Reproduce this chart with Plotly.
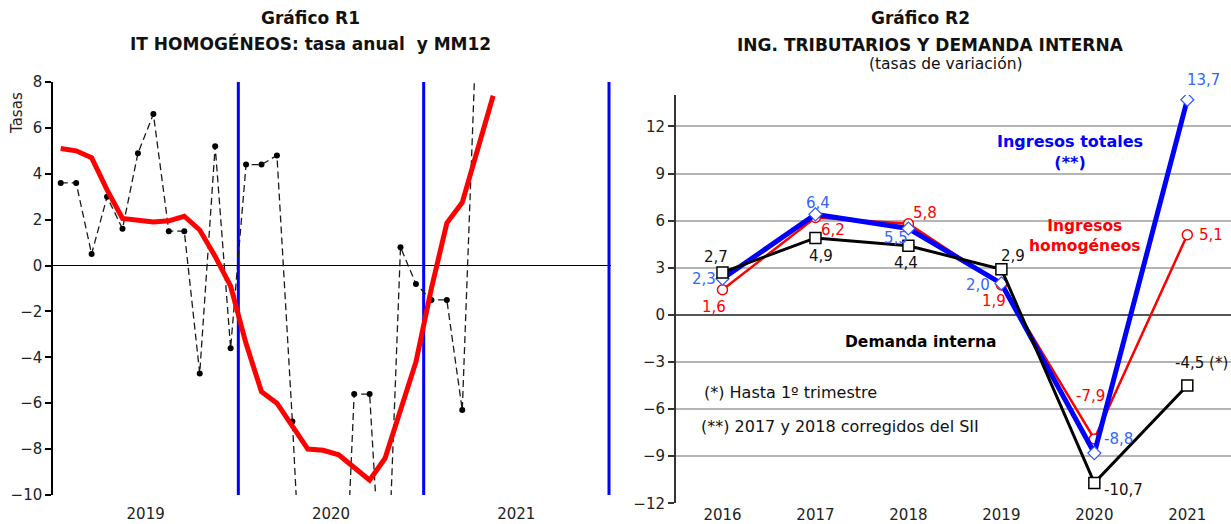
import plotly.graph_objects as go

W, H = 1231, 524
FONT = "DejaVu Sans"

# ---------------- Left chart data (Gráfico R1) ----------------
years_r1 = ["2019", "2020", "2021"]
months_r1 = [f"{y}-{m:02d}" for y in (2019, 2020, 2021) for m in range(1, 13)]
tasa_anual = [3.6, 3.6, 0.5, 3.0, 1.6, 4.9, 6.6, 1.5, 1.5, -4.7, 5.2, -3.6,
              4.4, 4.4, 4.8, -6.8, -20.0, -24.0, -21.0, -5.6, -5.6, -17.0, 0.8, -0.8,
              -1.5, -1.5, -6.3, 12.0]
mm12 = [5.1, 5.0, 4.7, 3.3, 2.05, 1.95, 1.9, 1.95, 2.15, 1.55, 0.4, -0.9,
        -3.4, -5.5, -6.0, -7.0, -8.0, -8.05, -8.25, -8.8, -9.35, -8.4, -6.3, -4.2,
        -1.0, 1.85, 2.75, 5.0, 7.4]
y_range_r1 = [-10, 8]

# ---------------- Right chart data (Gráfico R2) ----------------
years_r2 = ["2016", "2017", "2018", "2019", "2020", "2021"]
ing_totales = [2.3, 6.4, 5.5, 2.0, -8.8, 13.7]
ing_homogeneos = [1.6, 6.2, 5.8, 1.9, -7.9, 5.1]
demanda_interna = [2.7, 4.9, 4.4, 2.9, -10.7, -4.5]
label_suffix_demanda = ["", "", "", "", "", " (*)"]

# label offsets (pixels) - styling only
off_tot = [(-18, 0), (3, 11), (-12, -10), (-23, -2), (24, 14), (16, 20)]
off_hom = [(-8, -17), (18, -13), (17, 11), (-7, -16), (-4, 43), (24, 0)]
off_dem = [(-6, 15), (6, -18), (-2, -17), (12, 13), (29, -7), (14, 23)]


def px_x(p):
    return p / W


def px_y(p):
    return (H - p) / H


def fmt(v):
    return f"{v:.1f}".replace(".", ",")


fig = go.Figure()

# blue vertical year separators (left chart), built from the year list
sep_x, sep_y = [], []
for k in range(1, len(years_r1) + 1):
    sep_x += [12 * k, 12 * k, None]
    sep_y += [y_range_r1[0], y_range_r1[1], None]
fig.add_trace(go.Scatter(x=sep_x, y=sep_y, mode="lines", xaxis="x", yaxis="y",
                         line=dict(color="#0000FF", width=3), hoverinfo="skip",
                         showlegend=False))

# Left chart traces
x_tasa = [i + 0.5 for i in range(len(tasa_anual))]
x_mm = [i + 0.5 for i in range(len(mm12))]
fig.add_trace(go.Scatter(
    x=x_tasa, y=tasa_anual, mode="lines+markers", xaxis="x", yaxis="y",
    line=dict(color="#1a1a1a", width=1.3, dash="7px,4px"),
    marker=dict(color="#000000", size=6, symbol="circle"),
    hovertext=months_r1[:len(tasa_anual)], showlegend=False))
fig.add_trace(go.Scatter(
    x=x_mm, y=mm12, mode="lines", xaxis="x", yaxis="y",
    line=dict(color="#FF0000", width=5),
    hovertext=months_r1[:len(mm12)], showlegend=False))

# Right chart traces
fig.add_trace(go.Scatter(
    x=years_r2, y=ing_homogeneos, mode="lines+markers", xaxis="x2", yaxis="y2",
    line=dict(color="#FF0000", width=2.5),
    marker=dict(symbol="circle", size=10, color="white",
                line=dict(color="#FF0000", width=1.5)),
    showlegend=False))
fig.add_trace(go.Scatter(
    x=years_r2, y=ing_totales, mode="lines+markers", xaxis="x2", yaxis="y2",
    line=dict(color="#0000FF", width=5),
    marker=dict(symbol="diamond", size=10, color="white",
                line=dict(color="#3355FF", width=1.2)),
    showlegend=False))
fig.add_trace(go.Scatter(
    x=years_r2, y=demanda_interna, mode="lines+markers", xaxis="x2", yaxis="y2",
    line=dict(color="#000000", width=3),
    marker=dict(symbol="square", size=11, color="white",
                line=dict(color="#000000", width=1.5)),
    showlegend=False))

annotations = []
# data labels right chart (x as category index)
for vals, offs, color, suffix in (
        (ing_totales, off_tot, "#3366FF", [""] * 6),
        (ing_homogeneos, off_hom, "#FF0000", [""] * 6),
        (demanda_interna, off_dem, "#111111", label_suffix_demanda)):
    for i, (v, (dx, dy), sfx) in enumerate(zip(vals, offs, suffix)):
        annotations.append(dict(
            x=i, y=v, xref="x2", yref="y2", text=fmt(v) + sfx,
            showarrow=False, xshift=dx, yshift=dy, xanchor="center", yanchor="middle",
            font=dict(family=FONT, size=15, color=color)))


def txt(x, y, text, size, color="#111", bold=False, xanchor="center", angle=0):
    return dict(x=px_x(x), y=px_y(y), xref="paper", yref="paper",
                text=f"<b>{text}</b>" if bold else text, textangle=angle,
                showarrow=False, xanchor=xanchor, yanchor="middle",
                font=dict(family=FONT, size=size, color=color))


annotations += [
    txt(310, 18, "Gráfico R1", 17, bold=True),
    txt(310, 43, "IT HOMOGÉNEOS: tasa anual  y MM12", 17, bold=True),
    txt(920, 18, "Gráfico R2", 17, bold=True),
    txt(930, 45, "ING. TRIBUTARIOS Y DEMANDA INTERNA", 17, bold=True),
    txt(946, 64, "(tasas de variación)", 15.5),
    txt(17, 113, "Tasas", 15, color="#222", angle=-90),
    txt(1070, 152, "Ingresos totales<br>(**)", 16, color="#0000FF", bold=True),
    txt(1085, 236, "Ingresos<br>homogéneos", 15.5, color="#FF0000", bold=True),
    txt(920, 342, "Demanda interna", 15.5, color="#000", bold=True),
    txt(702, 392, "(*) Hasta 1º trimestre", 16, xanchor="left"),
    txt(699, 426, "(**) 2017 y 2018 corregidos del SII", 16, xanchor="left"),
]

x_right_r1 = 36.13  # small pad so the last separator is not half-clipped
fig.update_layout(
    width=W, height=H,
    margin=dict(l=0, r=0, t=0, b=0),
    paper_bgcolor="white", plot_bgcolor="white",
    font=dict(family=FONT, size=15, color="#222"),
    showlegend=False,
    annotations=annotations,
    xaxis=dict(domain=[px_x(53), px_x(53 + 556 * x_right_r1 / 36)], range=[0, x_right_r1],
               tickvals=[12 * i + 6 for i in range(len(years_r1))], ticktext=years_r1,
               showgrid=False, zeroline=False, showline=False, ticks="", ticklen=0,
               ticklabelstandoff=8, tickfont=dict(size=15, color="#222"),
               automargin=False, anchor="y"),
    yaxis=dict(domain=[px_y(495), px_y(82)], range=y_range_r1, dtick=2, tick0=0,
               showgrid=False, zeroline=True, zerolinecolor="#000", zerolinewidth=1.2,
               showline=True, linecolor="#000", linewidth=1.5,
               ticks="outside", ticklen=6, tickcolor="#000", tickwidth=1.5,
               tickfont=dict(size=15, color="#222"), automargin=False, anchor="x"),
    xaxis2=dict(domain=[px_x(676), 1.0], type="category", range=[-0.5, 5.47],
                showgrid=False, zeroline=False, showline=False, ticks="", ticklen=0,
                ticklabelstandoff=1,
                tickfont=dict(size=15, color="#222"), automargin=False, anchor="y2"),
    yaxis2=dict(domain=[px_y(503.3), px_y(95)], range=[-12, 14],
                tickvals=[-12, -9, -6, -3, 0, 3, 6, 9, 12],
                showgrid=True, gridcolor="#B4B4B4", gridwidth=1.5,
                zeroline=True, zerolinecolor="#555", zerolinewidth=2,
                showline=True, linecolor="#333", linewidth=2,
                ticks="outside", ticklen=6, tickcolor="#333", tickwidth=1.5,
                tickfont=dict(size=15, color="#222"), automargin=False, anchor="x2"),
)

fig.write_html("out.html", config={"displayModeBar": False},
               post_script="document.body.style.margin='0';document.body.style.padding='0';")
